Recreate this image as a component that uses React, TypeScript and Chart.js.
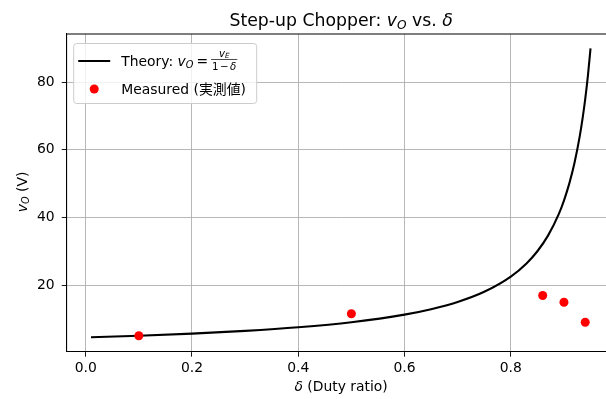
import React, { useEffect, useRef } from "react";
import { Chart, registerables } from "chart.js";

Chart.register(...registerables);

// ---- data ----
const theoryDelta = [0.01, 0.1, 0.2, 0.3, 0.4, 0.5, 0.6, 0.65, 0.7, 0.75, 0.8, 0.83, 0.85, 0.87, 0.89, 0.9, 0.91, 0.92, 0.93, 0.935, 0.94, 0.945, 0.95];
const theoryVo = [4.55, 5.0, 5.63, 6.43, 7.5, 9.0, 11.25, 12.86, 15.0, 18.0, 22.5, 26.47, 30.0, 34.62, 40.91, 45.0, 50.0, 56.25, 64.29, 69.23, 75.0, 81.82, 90.0];
const measuredDelta = [0.1, 0.5, 0.86, 0.9, 0.94];
const measuredVo = [5.0, 11.5, 16.9, 14.9, 9.0];
const xTickValues = [0.0, 0.2, 0.4, 0.6, 0.8];
const yTickValues = [20, 40, 60, 80];

const FAMILY = '"DejaVu Sans", "Noto Sans CJK JP", sans-serif';
const BASE = 13.9;
const TITLE = 17.3;

type Seg = { t: string; it?: boolean; scale?: number; dy?: number; gap?: number };

function measureSegs(ctx: CanvasRenderingContext2D, segs: Seg[], base: number) {
  return segs.map((s) => {
    const size = base * (s.scale ?? 1);
    const font = `${s.it ? "italic " : ""}${size}px ${FAMILY}`;
    ctx.font = font;
    const w = ctx.measureText(s.t).width + (s.gap ?? 0);
    return { ...s, size, font, w };
  });
}

function drawRich(ctx: CanvasRenderingContext2D, segs: Seg[], x: number, y: number, align: "left" | "center", base: number) {
  const items = measureSegs(ctx, segs, base);
  const total = items.reduce((a, b) => a + b.w, 0);
  let cx = align === "center" ? x - total / 2 : x;
  ctx.textAlign = "left";
  ctx.textBaseline = "alphabetic";
  for (const it of items) {
    ctx.font = it.font;
    ctx.fillText(it.t, cx, y + (it.dy ?? 0) * base);
    cx += it.w;
  }
  return cx;
}

const decorPlugin = {
  id: "decor",
  afterDraw(chart: any) {
    const ctx: CanvasRenderingContext2D = chart.ctx;
    const a = chart.chartArea;
    const cxm = (a.left + a.right) / 2;
    ctx.save();
    // top & right spines
    ctx.strokeStyle = "#000";
    ctx.lineWidth = 1.1;
    ctx.beginPath();
    ctx.moveTo(a.left, a.top);
    ctx.lineTo(a.right, a.top);
    ctx.lineTo(a.right, a.bottom);
    ctx.stroke();

    ctx.fillStyle = "#000";
    // title
    drawRich(
      ctx,
      [
        { t: "Step-up Chopper: " },
        { t: "v", it: true },
        { t: "O", it: true, scale: 0.7, dy: 0.15 },
        { t: " vs. " },
        { t: "δ", it: true },
      ],
      cxm,
      a.top - 8,
      "center",
      TITLE
    );
    // x label
    drawRich(ctx, [{ t: "δ", it: true }, { t: " (Duty ratio)" }], cxm, 391, "center", BASE);
    // y label
    ctx.save();
    ctx.translate(27, (a.top + a.bottom) / 2 - 1);
    ctx.rotate(-Math.PI / 2);
    drawRich(
      ctx,
      [
        { t: "v", it: true },
        { t: "O", it: true, scale: 0.7, dy: 0.15 },
        { t: " (V)" },
      ],
      0,
      0,
      "center",
      BASE
    );
    ctx.restore();

    // legend
    const lx = a.left + 6.5;
    const ly = a.top + 9;
    const lw = 183;
    const lh = 60;
    ctx.beginPath();
    (ctx as any).roundRect(lx + 0.5, ly + 0.5, lw, lh, 3);
    ctx.fillStyle = "rgba(255,255,255,0.8)";
    ctx.fill();
    ctx.strokeStyle = "#cccccc";
    ctx.lineWidth = 1;
    ctx.stroke();

    // theory row
    const r1 = ly + 18;
    ctx.beginPath();
    ctx.moveTo(lx + 5, r1);
    ctx.lineTo(lx + 37, r1);
    ctx.strokeStyle = "#000";
    ctx.lineWidth = 2.08;
    ctx.stroke();
    ctx.fillStyle = "#000";
    let cur = drawRich(
      ctx,
      [
        { t: "Theory: " },
        { t: "v", it: true },
        { t: "O", it: true, scale: 0.7, dy: 0.15, gap: 3 },
        { t: "=", gap: 3 },
      ],
      lx + 48,
      r1 + 5,
      "left",
      BASE
    );
    const fs = 10.2;
    const numSegs: Seg[] = [{ t: "v", it: true }, { t: "E", it: true, scale: 0.7, dy: 0.15 }];
    const denSegs: Seg[] = [{ t: "1", gap: 1.5 }, { t: "−", gap: 1.5 }, { t: "δ", it: true }];
    const nw = measureSegs(ctx, numSegs, fs).reduce((p, q) => p + q.w, 0);
    const dw = measureSegs(ctx, denSegs, fs).reduce((p, q) => p + q.w, 0);
    const fw = Math.max(nw, dw) + 2;
    const barY = r1 - 1.5;
    ctx.fillRect(cur, barY - 0.35, fw, 0.7);
    drawRich(ctx, numSegs, cur + fw / 2, barY - 3, "center", fs);
    drawRich(ctx, denSegs, cur + fw / 2, barY + 10, "center", fs);

    // measured row
    const r2 = ly + 46;
    ctx.beginPath();
    ctx.arc(lx + 21, r2, 4.5, 0, Math.PI * 2);
    ctx.fillStyle = "#ff0000";
    ctx.fill();
    ctx.fillStyle = "#000";
    drawRich(ctx, [{ t: "Measured (実測値)" }], lx + 48, r2 + 5, "left", BASE);
    ctx.restore();
  },
};

export default function App() {
  const ref = useRef<HTMLCanvasElement | null>(null);
  useEffect(() => {
    if (!ref.current) return;
    const chart = new Chart(ref.current, {
      type: "scatter",
      data: {
        datasets: [
          {
            label: "Measured",
            data: measuredDelta.map((x, i) => ({ x, y: measuredVo[i] })),
            backgroundColor: "#ff0000",
            borderColor: "#ff0000",
            borderWidth: 0,
            pointRadius: 4.5,
            showLine: false,
            order: 0,
          },
          {
            label: "Theory",
            data: theoryDelta.map((x, i) => ({ x, y: theoryVo[i] })),
            borderColor: "#000",
            borderWidth: 2.08,
            pointRadius: 0,
            showLine: true,
            cubicInterpolationMode: "monotone",
            order: 1,
          } as any,
        ],
      },
      options: {
        responsive: false,
        animation: false,
        layout: { padding: { top: 34, right: 3.4, left: 0, bottom: 0 } },
        plugins: {
          legend: { display: false },
          tooltip: { enabled: false },
          title: { display: false },
        },
        scales: {
          x: {
            type: "linear",
            min: -0.0357,
            max: 0.997,
            afterBuildTicks: (s: any) => {
              s.ticks = xTickValues.map((v) => ({ value: v }));
            },
            afterFit: (s: any) => {
              s.height = 399 - 351.7;
            },
            ticks: {
              callback: (v: any) => Number(v).toFixed(1),
              font: { family: FAMILY, size: BASE },
              color: "#000",
              padding: 3,
              maxRotation: 0,
              autoSkip: false,
            },
            grid: { color: "#b0b0b0", lineWidth: 0.9, tickColor: "#000", tickLength: 5, drawTicks: true },
            border: { color: "#000", width: 1.1 },
          },
          y: {
            type: "linear",
            min: 0.28,
            max: 94.27,
            afterBuildTicks: (s: any) => {
              s.ticks = yTickValues.map((v) => ({ value: v }));
            },
            afterFit: (s: any) => {
              s.width = 66.7;
            },
            ticks: {
              callback: (v: any) => String(v),
              font: { family: FAMILY, size: BASE },
              color: "#000",
              padding: 7,
              autoSkip: false,
            },
            grid: { color: "#b0b0b0", lineWidth: 0.9, tickColor: "#000", tickLength: 5, drawTicks: true },
            border: { color: "#000", width: 1.1 },
          },
        },
      } as any,
      plugins: [decorPlugin as any],
    });
    return () => chart.destroy();
  }, []);
  return (
    <div style={{ position: "absolute", left: 0, top: 0, width: 606, height: 399, overflow: "hidden", background: "#fff" }}>
      <canvas ref={ref} width={620} height={399} style={{ display: "block" }} />
    </div>
  );
}
